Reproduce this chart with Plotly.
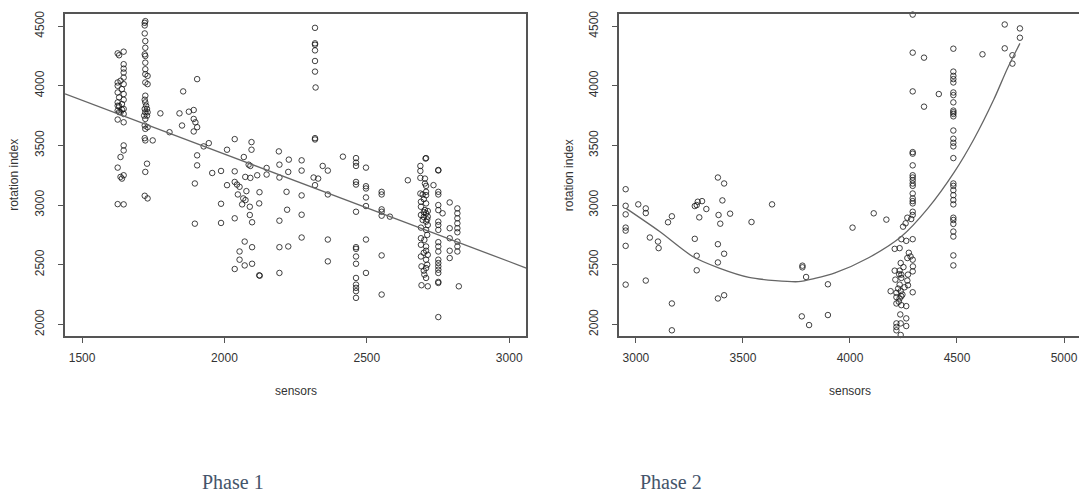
import plotly.graph_objects as go

# ---------------- data ----------------
# Phase 1 scatter (sensors, rotation index)
phase1_x = [
    1625, 1630, 1646, 1646, 1646, 1646, 1646, 1635, 1625, 1646, 1625, 1640, 1625, 1646, 1630, 1646,
    1625, 1640, 1625, 1630, 1646, 1640, 1625, 1630, 1635, 1646, 1625, 1646, 1646, 1646, 1635, 1625,
    1646, 1635, 1640, 1625, 1646,
    1722, 1720, 1720, 1720, 1722, 1722, 1720, 1722, 1722, 1722, 1722, 1730, 1722, 1730, 1722, 1720,
    1722, 1725, 1720, 1728, 1722, 1730, 1718, 1728, 1722, 1720, 1730, 1722, 1720, 1722, 1748, 1728,
    1722, 1720, 1730,
    1775, 1807, 1842, 1855, 1851, 1875, 1892, 1892, 1898, 1904, 1892, 1904, 1927, 1945, 1904, 1904,
    1896, 1896, 1957, 1988, 2009, 2036, 2036, 2009, 1988, 1988, 2036, 2036, 2044, 2053, 2068, 2085,
    2091, 2095, 2095, 2073, 2091, 2077, 2047, 2066, 2074, 2062, 2089, 2089, 2097, 2123, 2122, 2115,
    2148, 2148, 2191, 2193, 2193, 2193, 2193, 2218, 2226, 2224, 2224, 2220, 2071, 2053, 2097, 2053,
    2071, 2097, 2036, 2122, 2124, 2193,
    2318, 2318, 2318, 2318, 2318, 2318, 2320, 2318, 2318, 2271, 2271, 2345, 2363, 2416, 2462, 2462,
    2462, 2497, 2462, 2462, 2497, 2497, 2552, 2552, 2313, 2329, 2318, 2271, 2363, 2497, 2462, 2497,
    2552, 2552, 2552, 2581, 2271, 2271, 2363, 2363, 2462, 2462, 2462, 2462, 2497, 2497, 2552, 2552,
    2462, 2462, 2462, 2462, 2462, 2644,
    2708, 2706, 2688, 2688, 2688, 2704, 2704, 2708, 2688, 2696, 2708, 2708, 2690, 2708, 2690, 2704,
    2714, 2690, 2708, 2714, 2696, 2708, 2714, 2690, 2708, 2690, 2702, 2690, 2708, 2708, 2714, 2690,
    2708, 2692, 2708, 2702, 2708, 2692, 2714, 2700, 2700, 2712, 2700, 2712, 2700, 2712, 2700,
    2751, 2751, 2734, 2751, 2751, 2751, 2751, 2766, 2751, 2751, 2751, 2751, 2751, 2751, 2751, 2751,
    2751, 2751, 2751, 2751, 2751, 2751,
    2791, 2791, 2791, 2791, 2791, 2818, 2818, 2818, 2818, 2818, 2818, 2818, 2818, 2818, 2823,
]
phase1_y = [
    4272, 4256, 4286, 4181, 4144, 4111, 4069, 4042, 4028, 4014, 4000, 3972, 3944, 3931, 3903, 3883,
    3861, 3847, 3833, 3830, 3806, 3800, 3792, 3780, 3778, 3764, 3717, 3694, 3500, 3458, 3403, 3314,
    3250, 3236, 3222, 3008, 3006,
    4542, 4528, 4506, 4439, 4375, 4319, 4264, 4250, 4194, 4139, 4097, 4083, 4028, 4014, 3917, 3883,
    3861, 3833, 3806, 3806, 3778, 3778, 3750, 3750, 3722, 3667, 3653, 3639, 3561, 3542, 3542, 3347,
    3278, 3078, 3056,
    3769, 3611, 3769, 3953, 3667, 3783, 3797, 3722, 3694, 3653, 3617, 4056, 3492, 3519, 3417, 3333,
    3181, 2844, 3269, 3286, 3464, 3553, 3283, 3167, 3011, 2850, 2889, 3194, 3172, 3153, 3403, 3339,
    3328, 3528, 3464, 3236, 3228, 3117, 3089, 3056, 3042, 3006, 2986, 2917, 2856, 3108, 3014, 3250,
    3311, 3256, 3450, 3339, 3231, 2869, 2647, 3111, 3381, 3278, 2653, 2961, 2694, 2611, 2647, 2542,
    2494, 2508, 2464, 2411, 2408, 2431,
    4486, 4356, 4344, 4297, 4208, 4119, 3986, 3561, 3550, 3375, 3289, 3328, 3289, 3406, 3394, 3356,
    3328, 3314, 3194, 3172, 3158, 3139, 3111, 3089, 3231, 3222, 3167, 3081, 3089, 3064, 2944, 2992,
    2964, 2944, 2911, 2903, 2919, 2728, 2711, 2528, 2647, 2633, 2569, 2508, 2711, 2431, 2578, 2250,
    2389, 2333, 2306, 2278, 2222, 3208,
    3394, 3390, 3328, 3286, 3228, 3222, 3181, 3161, 3097, 3089, 3111, 3083, 3028, 3014, 2986, 2958,
    2950, 2917, 2931, 2903, 2875, 2861, 2833, 2811, 2792, 2722, 2708, 2667, 2653, 2617, 2583, 2569,
    2542, 2486, 2472, 2417, 2389, 2328, 2319, 2940, 2900, 2880, 3050, 2750, 2600, 2500, 2450,
    3294, 3290, 3167, 3111, 3089, 3000, 2958, 2931, 2861, 2833, 2792, 2689, 2653, 2611, 2542, 2514,
    2486, 2458, 2431, 2356, 2347, 2061,
    3022, 2806, 2722, 2617, 2556, 2972, 2931, 2889, 2847, 2806, 2772, 2694, 2653, 2611, 2319,
]

# Phase 1 fitted straight line (end points)
fit1_x = [1440, 3060]
fit1_y = [3932, 2472]

# Phase 2 scatter
phase2_x = [
    2952, 2952, 2952, 2952, 2952, 2952, 2952, 3011, 3046, 3046, 3065, 3103, 3106, 3046, 3150, 3168,
    3168, 3168, 3275, 3284, 3289, 3309, 3329, 3296, 3275, 3284, 3284, 3383, 3412, 3404, 3386, 3394,
    3383, 3412, 3383, 3383, 3412, 3440, 3540, 3636, 3778, 3778, 3795, 3775, 3809, 3897, 3897,
    4012, 4111, 4170, 4293, 4293, 4346, 4293, 4415, 4346, 4483, 4619, 4723, 4723, 4794, 4794, 4759,
    4759,
    4483, 4483, 4483, 4483, 4483, 4483, 4483, 4483, 4483, 4483, 4483, 4483, 4483, 4483, 4483, 4483,
    4483, 4483, 4483, 4483, 4483, 4483, 4483, 4483, 4483, 4483, 4483, 4483, 4483,
    4293, 4293, 4293, 4293, 4293, 4293, 4293, 4293, 4293, 4293, 4293, 4293, 4293, 4293, 4286, 4293,
    4268, 4260, 4248, 4240, 4263, 4209, 4232, 4268, 4283, 4293, 4237, 4294, 4293, 4209, 4232, 4240,
    4271, 4212, 4240, 4268, 4232, 4255, 4271, 4190, 4217, 4237, 4293, 4217, 4232, 4240, 4217, 4240,
    4263, 4235, 4263, 4217, 4217, 4217, 4237, 4263, 4237, 4230, 4225, 4245, 4228, 4250, 4275,
]
phase2_y = [
    3133, 2994, 2922, 2811, 2786, 2658, 2333, 3006, 2972, 2933, 2728, 2694, 2639, 2367, 2856, 2906,
    2175, 1950, 2992, 3000, 3028, 3033, 2967, 2897, 2717, 2575, 2453, 3231, 3181, 3039, 2917, 2844,
    2672, 2592, 2519, 2217, 2244, 2928, 2858, 3006, 2492, 2478, 2397, 2067, 1994, 2336, 2078,
    2811, 2931, 2878, 4597, 4278, 4236, 3953, 3931, 3825, 4311, 4264, 4514, 4314, 4481, 4403, 4256,
    4186,
    4119, 4083, 4056, 4028, 3944, 3922, 3861, 3792, 3778, 3764, 3744, 3625, 3556, 3522, 3492, 3394,
    3181, 3161, 3125, 3083, 3042, 3006, 2894, 2875, 2842, 2778, 2736, 2578, 2494,
    3444, 3431, 3333, 3250, 3231, 3208, 3181, 3161, 3097, 3056, 3033, 3014, 2944, 2917, 2883, 2714,
    2894, 2847, 2819, 2714, 2700, 2633, 2639, 2556, 2569, 2542, 2514, 2486, 2444, 2450, 2450, 2417,
    2417, 2375, 2389, 2367, 2333, 2311, 2328, 2278, 2264, 2278, 2269, 2228, 2217, 2236, 2175, 2161,
    2153, 2083, 2050, 2008, 1978, 1950, 2008, 1986, 1911, 2420, 2300, 2250, 2190, 2480, 2600,
]

# Phase 2 fitted curve
fit2_x = [2954, 3111, 3265, 3389, 3528, 3651, 3759, 3836, 3930, 4085, 4240, 4364, 4488, 4580, 4673, 4734, 4794]
fit2_y = [2972, 2778, 2569, 2472, 2394, 2367, 2358, 2385, 2431, 2556, 2736, 2972, 3278, 3556, 3889, 4139, 4356]

# Axis ticks and labels
x1_ticks = [1500, 2000, 2500, 3000]
x2_ticks = [3000, 3500, 4000, 4500, 5000]
y_ticks = [2000, 2500, 3000, 3500, 4000, 4500]
x_title = "sensors"
y_title = "rotation index"
captions = ["Phase 1", "Phase 2"]

# ---------------- figure ----------------
W, H = 1079, 497
AX = "#555555"
TXT = "#333333"
MK = "rgba(20,20,20,0.8)"

fig = go.Figure()
fig.add_trace(go.Scatter(x=phase1_x, y=phase1_y, mode="markers", xaxis="x", yaxis="y",
                         marker=dict(symbol="circle-open", size=5.5, color=MK, line=dict(width=1)),
                         cliponaxis=False, hoverinfo="skip"))
fig.add_trace(go.Scatter(x=fit1_x, y=fit1_y, mode="lines", xaxis="x", yaxis="y",
                         line=dict(color="#666666", width=1.3), hoverinfo="skip"))
fig.add_trace(go.Scatter(x=phase2_x, y=phase2_y, mode="markers", xaxis="x2", yaxis="y2",
                         marker=dict(symbol="circle-open", size=5.5, color=MK, line=dict(width=1)),
                         cliponaxis=False, hoverinfo="skip"))
fig.add_trace(go.Scatter(x=fit2_x, y=fit2_y, mode="lines", xaxis="x2", yaxis="y2",
                         line=dict(color="#666666", width=1.3, shape="spline", smoothing=0.8),
                         hoverinfo="skip"))

ydom = [1 - 335.3 / H, 1 - 11.3 / H]
tickfont = dict(family="Liberation Sans, Arial, sans-serif", size=12, color=TXT)
common = dict(showgrid=False, zeroline=False, showline=True, linecolor=AX, linewidth=1.5,
              ticks="outside", ticklen=5, tickwidth=1, tickcolor=AX, tickfont=tickfont)

fig.update_layout(
    width=W, height=H, margin=dict(l=0, r=0, t=0, b=0),
    paper_bgcolor="white", plot_bgcolor="white", showlegend=False,
    xaxis=dict(domain=[65 / W, 526.3 / W], range=[1440, 3060], tickvals=x1_ticks,
               anchor="y", mirror=True, ticklabelstandoff=5, **common),
    yaxis=dict(domain=ydom, range=[1900, 4600], tickvals=y_ticks, tickangle=-90,
               anchor="x", mirror=True, ticklabelstandoff=9, **common),
    xaxis2=dict(domain=[618.8 / W, 1.0], range=[2920, 5070], tickvals=x2_ticks,
                anchor="y2", mirror=True, ticklabelstandoff=5, **common),
    yaxis2=dict(domain=ydom, range=[1900, 4600], tickvals=y_ticks, tickangle=-90,
                anchor="x2", mirror=False, ticklabelstandoff=9, **common),
)

lab_font = dict(family="Liberation Sans, Arial, sans-serif", size=12, color=TXT)
cap_font = dict(family="Liberation Serif, Times New Roman, serif", size=20, color="#44546A")

def px(xp, yp):
    return xp / W, 1 - yp / H

anns = []
for cx in (295.7, 850.4):
    x, y = px(cx, 390)
    anns.append(dict(x=x, y=y, text=x_title, font=lab_font))
for cx in (14.6, 569.0):
    x, y = px(cx, 173.3)
    anns.append(dict(x=x, y=y, text=y_title, font=lab_font, textangle=-90))
for cx, t in zip((233, 671), captions):
    x, y = px(cx, 482)
    anns.append(dict(x=x, y=y, text=t, font=cap_font))
for a in anns:
    a.update(xref="paper", yref="paper", showarrow=False, xanchor="center", yanchor="middle")
fig.update_layout(annotations=anns)

# remove the default page margin so the figure fills the window exactly
fig.write_html("out.html", config={"displayModeBar": False},
               post_script="document.body.style.margin='0';document.body.style.overflow='hidden';")
